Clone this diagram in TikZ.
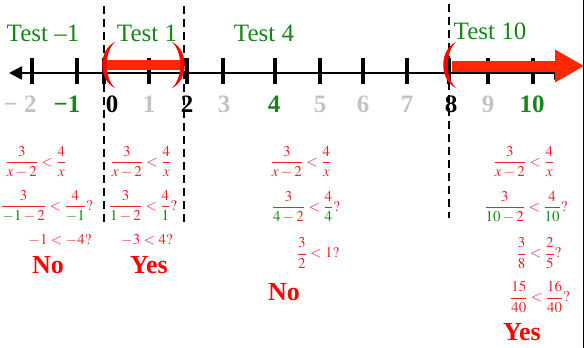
\documentclass[tikz,border=0pt]{standalone}
\usepackage{mathptmx}
\usepackage[no-math]{fontspec}
\setmainfont{Liberation Serif}
\usepackage{xcolor}
\usepackage{tikz}
\usetikzlibrary{arrows.meta}
\definecolor{tgreen}{RGB}{20,135,20}
\definecolor{ngray}{RGB}{195,195,195}
\definecolor{fred}{RGB}{235,35,40}
\definecolor{bred}{RGB}{255,40,0}
\tikzstyle{axis} = [line width=2.5pt,{Triangle[length=13pt,width=13pt]}-{Triangle[length=13pt,width=13pt]}]
\tikzstyle{tickmark} = [line width=4pt]
\tikzstyle{divider} = [line width=2pt,dash pattern=on 8pt off 5pt]
\tikzstyle{redbar} = [bred,line width=10pt]
\tikzstyle{redarrow} = [bred,line width=11pt,-{Triangle[length=29pt,width=33pt,line width=0pt]}]
\tikzstyle{bracket} = [fill=red]
\tikzstyle{testlbl} = [inner sep=0pt,text=tgreen,font=\fontsize{25}{28}\selectfont]
\tikzstyle{numlbl} = [inner sep=0pt,font=\fontsize{25}{28}\selectfont\bfseries]
\tikzstyle{ineq} = [inner sep=0pt,text=fred,font=\fontsize{15}{18}\selectfont]
\tikzstyle{answer} = [inner sep=0pt,text=red,font=\fontsize{26}{30}\selectfont\bfseries]
\def\G#1{{\color{tgreen}#1}}

\begin{document}
\begin{tikzpicture}[x=1pt,y=-1pt]
\useasboundingbox (0,0) rectangle (584,348);

% number line
\coordinate (lend) at (9,73);
\coordinate (rend) at (567,73);
\draw [axis] (lend) -- (rend);

\draw [tickmark] (32,58) -- (32,84);
\draw [tickmark] (77,58) -- (77,84);
\draw [tickmark] (104,58) -- (104,84);
\draw [tickmark] (149,58) -- (149,84);
\draw [tickmark] (187,58) -- (187,84);
\draw [tickmark] (223,58) -- (223,84);
\draw [tickmark] (275,58) -- (275,84);
\draw [tickmark] (320,58) -- (320,84);
\draw [tickmark] (363,58) -- (363,84);
\draw [tickmark] (407,58) -- (407,84);
\draw [tickmark] (449,58) -- (449,84);
\draw [tickmark] (488,58) -- (488,84);
\draw [tickmark] (533,58) -- (533,84);

\node [numlbl,text=ngray] (nm2) at (20,104) {− 2};
\node [numlbl,text=tgreen] (nm1) at (67,104) {−1};
\node [numlbl] (n0) at (112,104) {0};
\node [numlbl,text=ngray] (n1) at (149,104) {1};
\node [numlbl] (n2) at (187,104) {2};
\node [numlbl,text=ngray] (n3) at (224,104) {3};
\node [numlbl,text=tgreen] (n4) at (274,104) {4};
\node [numlbl,text=ngray] (n5) at (320,104) {5};
\node [numlbl,text=ngray] (n6) at (363,104) {6};
\node [numlbl,text=ngray] (n7) at (407,104) {7};
\node [numlbl] (n8) at (451,104) {8};
\node [numlbl,text=ngray] (n9) at (488,104) {9};
\node [numlbl,text=tgreen] (n10) at (532,104) {10};

% dividers
\coordinate (d0t) at (104,6);
\coordinate (d0b) at (104,224);
\coordinate (d2t) at (184,6);
\coordinate (d2b) at (184,222);
\coordinate (d8t) at (449,4);
\coordinate (d8b) at (449,218);
\draw [divider] (d0t) -- (d0b);
\draw [divider] (d2t) -- (d2b);
\draw [divider] (d8t) -- (d8b);

% solution set
\coordinate (s0) at (105,65);
\coordinate (s2) at (183,65);
\draw [redbar] (s0) -- (s2);
\coordinate (s8) at (452,66);
\coordinate (sinf) at (584,66);
\draw [redarrow] (s8) -- (sinf);

\fill [bracket,shift={(115,65)}] (0,-23) .. controls (-17,-15) and (-17,15) .. (0,23) .. controls (-11,13) and (-11,-13) .. (0,-23);
\fill [bracket,shift={(172,65)}] (0,-23) .. controls (17,-15) and (17,15) .. (0,23) .. controls (11,13) and (11,-13) .. (0,-23);
\fill [bracket,shift={(456,65)}] (0,-23) .. controls (-17,-15) and (-17,15) .. (0,23) .. controls (-11,13) and (-11,-13) .. (0,-23);

% test labels
\node [testlbl] (tm1) at (43,33) {Test –1};
\node [testlbl] (t1) at (147,33) {Test 1};
\node [testlbl] (t4) at (264,33) {Test 4};
\node [testlbl] (t10) at (490,31) {Test 10};

% test -1
\node [ineq] (a1) at (36,162) {$\displaystyle\frac{3}{x-2}<\frac{4}{x}$};
\node [ineq] (a2) at (47,206) {$\displaystyle\frac{3}{\G{-1}-2}<\frac{4}{\G{-1}}?$};
\node [ineq] (a3) at (60,240) {$-1<-4?$};
\node [answer] (noA) at (48,265) {No};

% test 1
\node [ineq] (b1) at (141,162) {$\displaystyle\frac{3}{x-2}<\frac{4}{x}$};
\node [ineq] (b2) at (143,206) {$\displaystyle\frac{3}{\G{1}-2}<\frac{4}{\G{1}}?$};
\node [ineq] (b3) at (147,240) {$-3<4?$};
\node [answer] (yesB) at (149,265) {Yes};

% test 4
\node [ineq] (c1) at (301,162) {$\displaystyle\frac{3}{x-2}<\frac{4}{x}$};
\node [ineq] (c2) at (306,207) {$\displaystyle\frac{3}{\G{4}-2}<\frac{4}{\G{4}}?$};
\node [ineq] (c3) at (318,253) {$\displaystyle\frac{3}{2}<1?$};
\node [answer] (noC) at (284,292) {No};

% test 10
\node [ineq] (e1) at (524,162) {$\displaystyle\frac{3}{x-2}<\frac{4}{x}$};
\node [ineq] (e2) at (526,207) {$\displaystyle\frac{3}{\G{10}-2}<\frac{4}{\G{10}}?$};
\node [ineq] (e3) at (539,253) {$\displaystyle\frac{3}{8}<\frac{2}{5}?$};
\node [ineq] (e4) at (540,297) {$\displaystyle\frac{15}{40}<\frac{16}{40}?$};
\node [answer] (yesE) at (522,332) {Yes};

\draw [line width=1.5pt] (583.25,0) -- (583.25,348);
\end{tikzpicture}
\end{document}
